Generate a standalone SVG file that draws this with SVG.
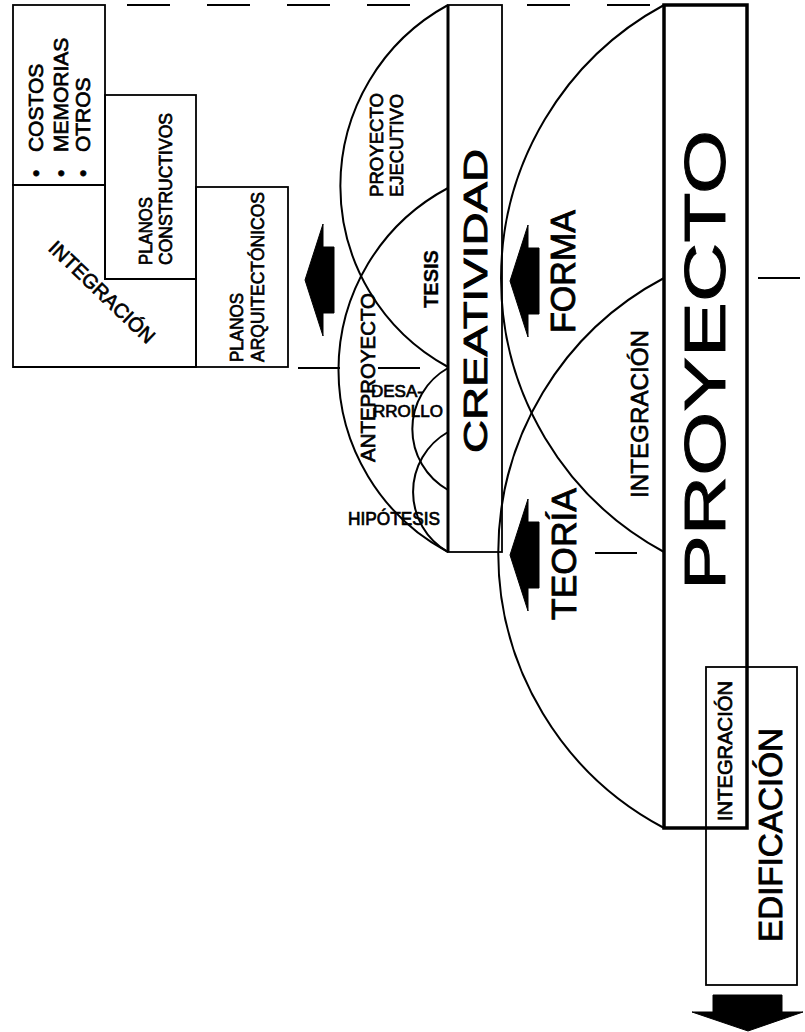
<svg xmlns="http://www.w3.org/2000/svg" width="805" height="1032" viewBox="0 0 805 1032">
<style>
.t{font-family:"Liberation Sans",Arial,sans-serif;fill:#000;stroke:#000;stroke-width:0.7}
.big{stroke-width:0.9}
.b{font-weight:bold;stroke-width:0.3}
.thin{fill:none;stroke:#000;stroke-width:1.8}
.thick{fill:none;stroke:#000;stroke-width:3.5}
.arc{fill:none;stroke:#000;stroke-width:2}
.dash{fill:none;stroke:#000;stroke-width:2}
.arrow{fill:#000;stroke:#000;stroke-width:1}
</style>
<defs>
<path id="arrowL" d="M0,0 L18,-56 L18,-33 L29,-33 L29,33 L18,33 L18,56 Z"/>
</defs>
<rect x="0" y="0" width="805" height="1032" fill="#fff"/>

<g id="guides">
<path class="dash" d="M127,5 H170 M207,5 H250 M287,5 H330 M367,5 H410 M527,5 H570 M607,5 H650"/>
<path class="dash" d="M758,278 H800"/>
<path class="dash" d="M298,368 H340 M378,368 H420"/>
<path class="dash" d="M595,553 H637"/>
</g>

<g id="box-costos">
<rect class="thin" x="13" y="5" width="92" height="180"/>
<text class="t" font-size="21" transform="translate(43,177) rotate(-90)">•<tspan dx="17.6">COSTOS</tspan></text>
<text class="t" font-size="21" transform="translate(68,177) rotate(-90)">•<tspan dx="17.6">MEMORIAS</tspan></text>
<text class="t" font-size="21" transform="translate(90,177) rotate(-90)">•<tspan dx="17.6">OTROS</tspan></text>
</g>
<g id="box-constructivos">
<rect class="thin" x="105" y="95" width="91" height="184"/>
<text class="t" font-size="19" textLength="68" lengthAdjust="spacingAndGlyphs" transform="translate(152,265) rotate(-90)">PLANOS</text>
<text class="t" font-size="19" textLength="152" lengthAdjust="spacingAndGlyphs" transform="translate(172,265) rotate(-90)">CONSTRUCTIVOS</text>
</g>
<g id="box-arquitectonicos">
<rect class="thin" x="196" y="187" width="92" height="180"/>
<text class="t" font-size="19" textLength="69" lengthAdjust="spacingAndGlyphs" transform="translate(243,362) rotate(-90)">PLANOS</text>
<text class="t" font-size="19" textLength="170" lengthAdjust="spacingAndGlyphs" transform="translate(264,362) rotate(-90)">ARQUITECTÓNICOS</text>
</g>
<g id="box-integracion">
<path class="thin" d="M13,185 H105 V279 H196 V367 H13 Z"/>
<text class="t" font-size="20" text-anchor="middle" textLength="138" lengthAdjust="spacingAndGlyphs" transform="translate(102,292) rotate(43.7)" y="7">INTEGRACIÓN</text>
</g>

<g id="arcs">
<path class="arc" d="M448,5 A206,206 0 0,0 448,367"/>
<path class="arc" d="M448,188 A206,206 0 0,0 448,552"/>
<path class="arc" d="M448,368 A70,70 0 0,0 448,490"/>
<path class="arc" d="M448,432 A69,69 0 0,0 448,552"/>
<path class="arc" d="M664,5 A311,311 0 0,0 664,552"/>
<path class="arc" d="M664,278 A311,311 0 0,0 664,828"/>
</g>

<g id="creatividad">
<rect class="thin" x="448" y="5" width="54" height="547"/>
<line x1="448" y1="5" x2="448" y2="552" stroke="#000" stroke-width="3"/>
<text class="t big" font-size="33.5" textLength="304" lengthAdjust="spacingAndGlyphs" transform="translate(487,453) rotate(-90)">CREATIVIDAD</text>
</g>

<g id="labels-creatividad">
<text class="t" font-size="19" textLength="104" lengthAdjust="spacingAndGlyphs" transform="translate(383,197) rotate(-90)">PROYECTO</text>
<text class="t" font-size="19" textLength="103" lengthAdjust="spacingAndGlyphs" transform="translate(403,197) rotate(-90)">EJECUTIVO</text>
<text class="t b" font-size="20" textLength="58" lengthAdjust="spacingAndGlyphs" transform="translate(438,308) rotate(-90)">TESIS</text>
<text class="t" font-size="20" textLength="169" lengthAdjust="spacingAndGlyphs" transform="translate(375,462) rotate(-90)">ANTEPROYECTO</text>
<text class="t" font-size="17" x="371" y="397">DESA-</text>
<text class="t" font-size="17" x="373" y="417">RROLLO</text>
<text class="t" font-size="17.5" x="348" y="525" textLength="92" lengthAdjust="spacingAndGlyphs">HIPÓTESIS</text>
</g>

<g id="labels-proyecto">
<text class="t big" font-size="35" textLength="123" lengthAdjust="spacingAndGlyphs" transform="translate(575,333) rotate(-90)">FORMA</text>
<text class="t big" font-size="35" textLength="132" lengthAdjust="spacingAndGlyphs" transform="translate(576,620) rotate(-90)">TEORÍA</text>
<text class="t" font-size="24" textLength="168" lengthAdjust="spacingAndGlyphs" transform="translate(648,498) rotate(-90)">INTEGRACIÓN</text>
</g>

<g id="edificacion">
<rect class="thin" x="706" y="667" width="91" height="318"/>
<text class="t" font-size="20" textLength="140" lengthAdjust="spacingAndGlyphs" transform="translate(732,821) rotate(-90)">INTEGRACIÓN</text>
<text class="t big" font-size="33" textLength="214" lengthAdjust="spacingAndGlyphs" transform="translate(782,942) rotate(-90)">EDIFICACIÓN</text>
</g>

<g id="proyecto">
<rect class="thick" x="664" y="5" width="83" height="823"/>
<text class="t big" font-size="58" textLength="460" lengthAdjust="spacingAndGlyphs" transform="translate(725,590) rotate(-90)">PROYECTO</text>
</g>

<g id="connectors">
<use href="#arrowL" class="arrow" transform="translate(305,280)"/>
<use href="#arrowL" class="arrow" transform="translate(510,281)"/>
<use href="#arrowL" class="arrow" transform="translate(510,555)"/>
<path class="arrow" d="M713,995 H782 V1012 H803 L748,1031 L692,1012 H713 Z"/>
</g>
</svg>
